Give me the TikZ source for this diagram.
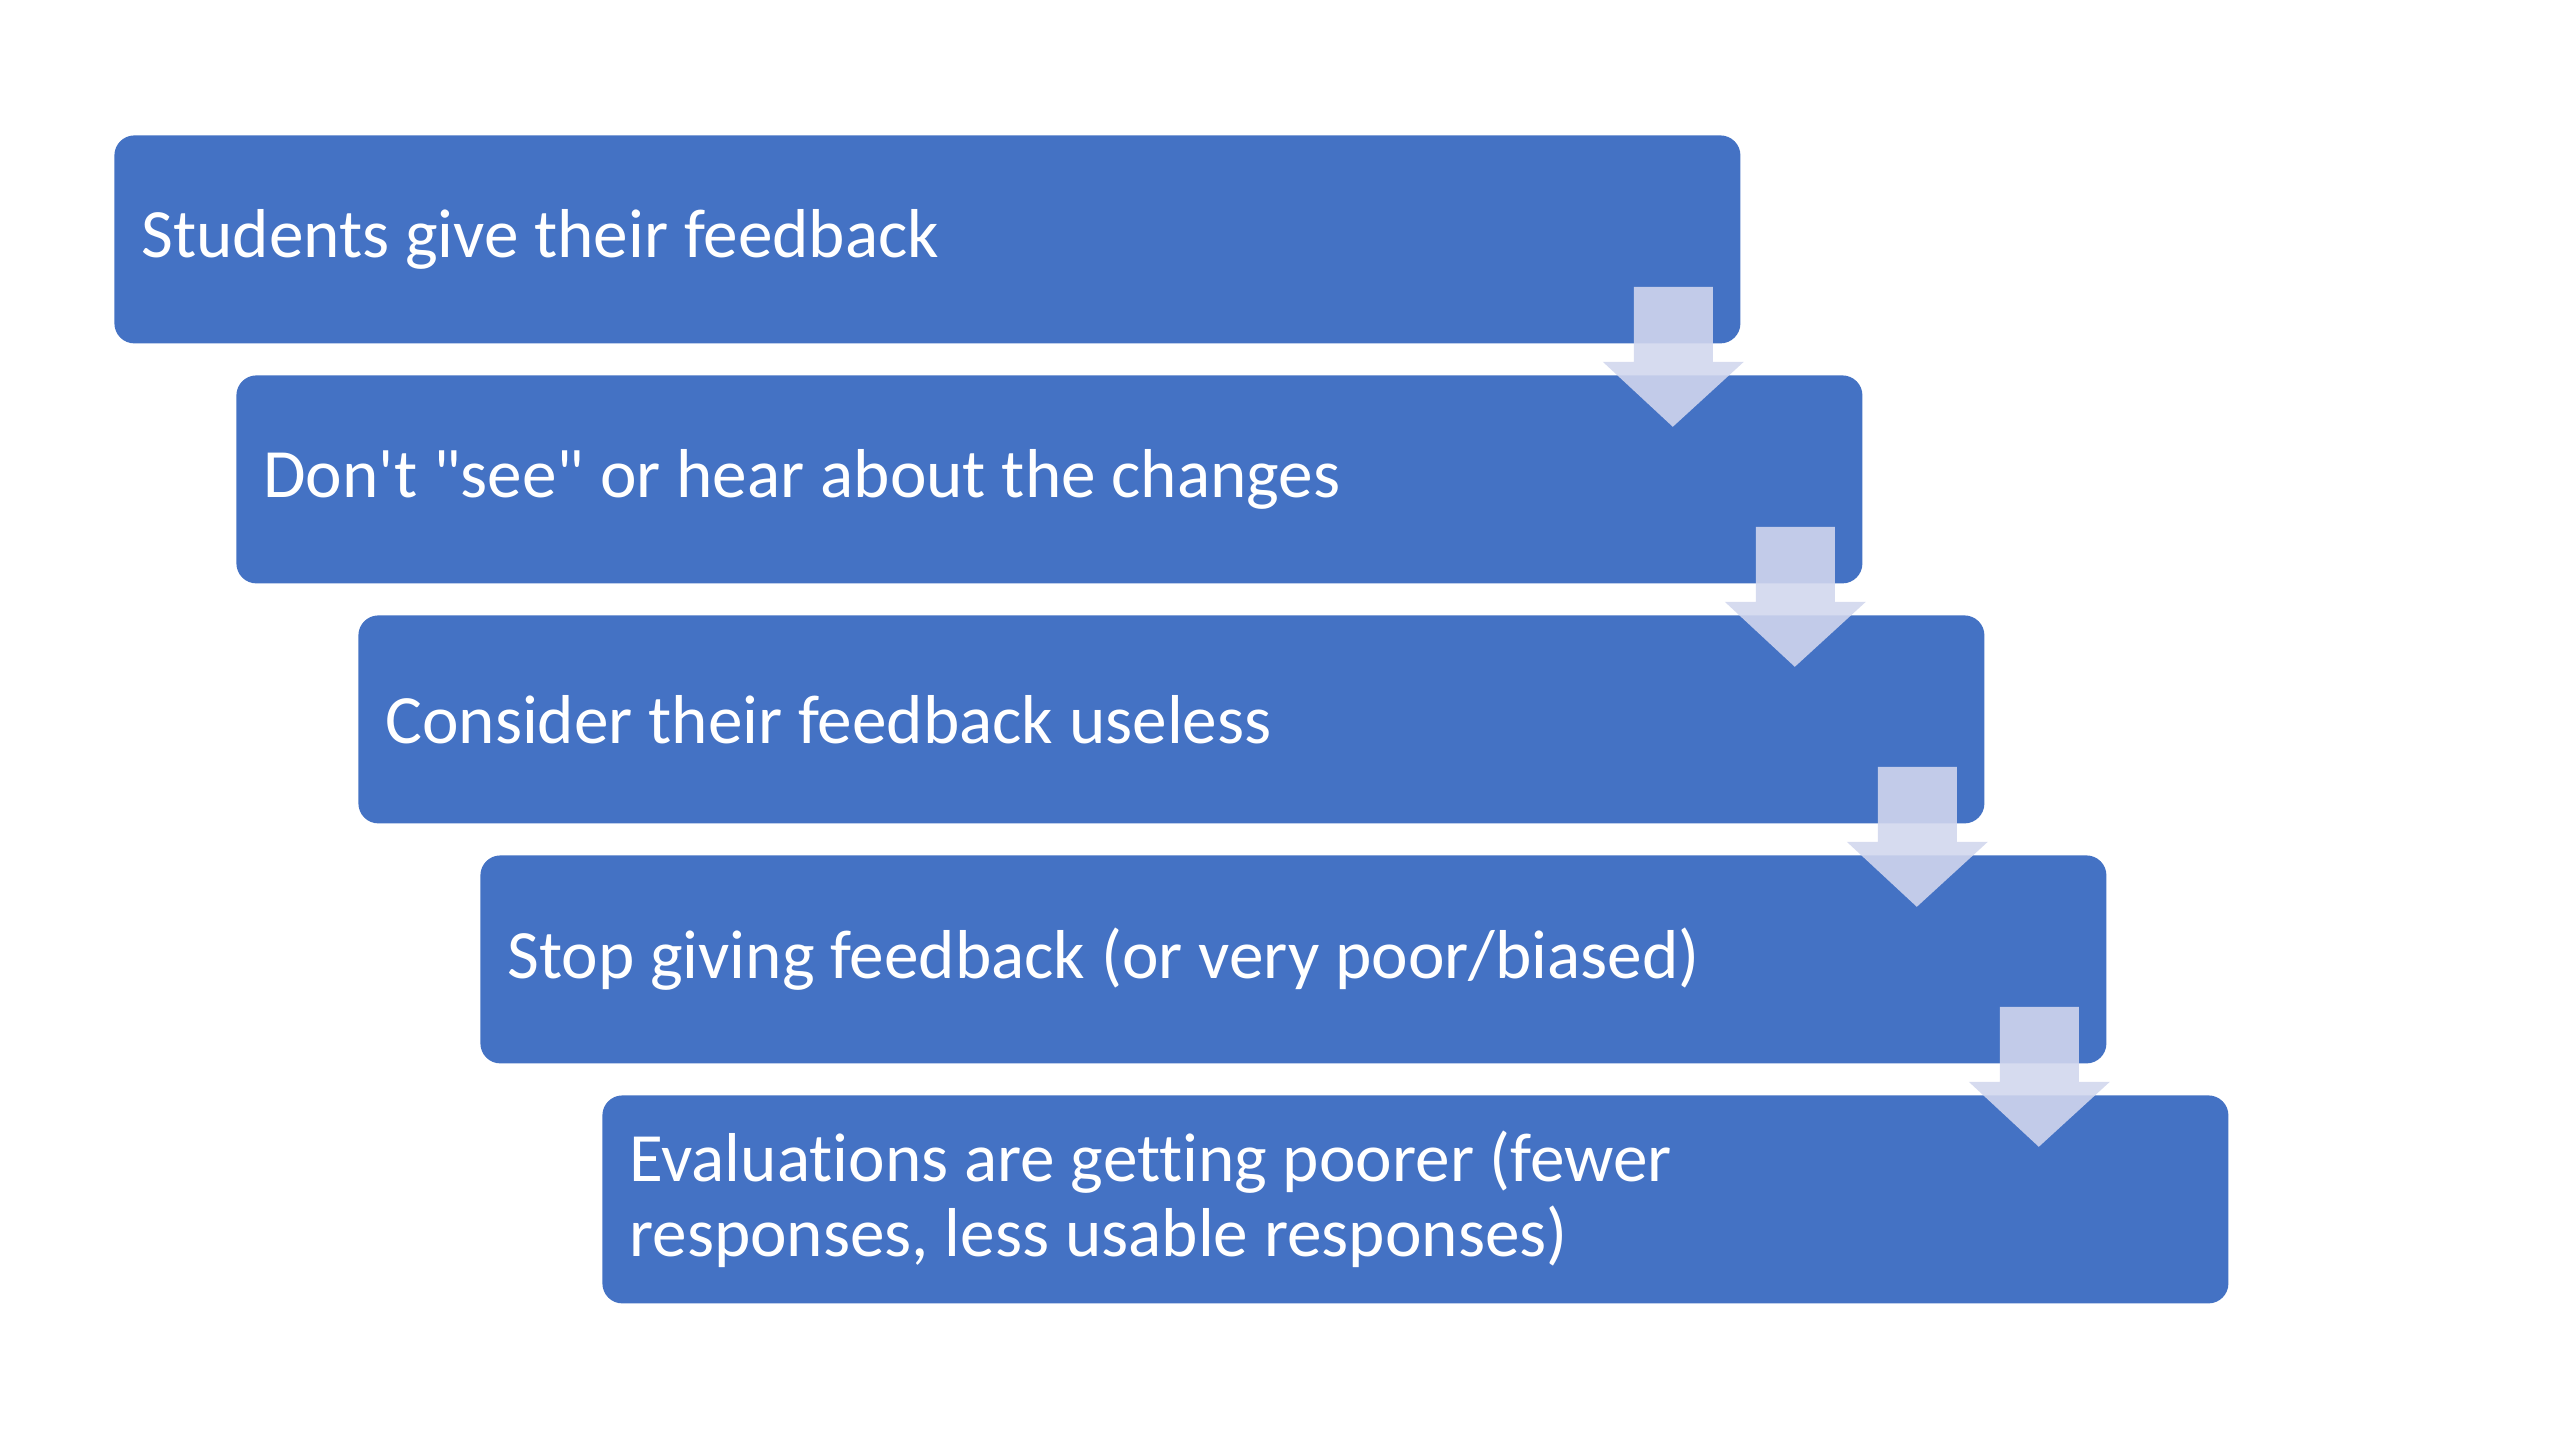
\documentclass[tikz,border=0pt]{standalone}
\usepackage{fontspec}
\setmainfont{Carlito}[Ligatures=NoCommon]
\usetikzlibrary{calc}
\definecolor{boxblue}{HTML}{4472C4}
\definecolor{arrowlight}{RGB}{210,215,238}
\tikzset{
  stepbox/.style={rectangle, rounded corners=10pt, fill=boxblue, draw=none,
    anchor=north west, minimum width=813pt, minimum height=104pt,
    text width=786pt, inner xsep=13.5pt, inner ysep=0pt, align=left,
    text=white, font=\fontsize{34.6}{37.5}\selectfont,
    execute at begin node={\spaceskip=7.9pt\relax\xspaceskip=7.9pt\relax}},
  downarrow/.style={fill=arrowlight, fill opacity=0.89, draw=none}
}
\newcommand{\downarr}[1]{%
  \fill[downarrow]
    ($(#1.south east)+(-53.5pt,28.5pt)$) -- ($(#1.south east)+(-14pt,28.5pt)$)
    -- ($(#1.south east)+(-14pt,-9pt)$) -- ($(#1.south east)+(1.5pt,-9pt)$)
    -- ($(#1.south east)+(-34pt,-41.5pt)$) -- ($(#1.south east)+(-69pt,-9pt)$)
    -- ($(#1.south east)+(-53.5pt,-9pt)$) -- cycle;}
\begin{document}
\begin{tikzpicture}[x=1pt,y=1pt]
\useasboundingbox[fill=white] (0,0) rectangle (1280,-720);
\node[stepbox] (b1) at (57,-67.5) {Students give their feedback};
\node[stepbox] (b2) at (118,-187.5) {Don\textquotesingle t \textquotedbl see\textquotedbl{} or hear about the changes};
\node[stepbox] (b3) at (179,-307.5) {Consider their feedback useless};
\node[stepbox] (b4) at (240,-427.5) {Stop giving feedback (or very poor/biased)};
\node[stepbox] (b5) at (301,-547.5) {Evaluations are getting poorer (fewer\\responses, less usable responses)};
\downarr{b1}
\downarr{b2}
\downarr{b3}
\downarr{b4}
\end{tikzpicture}
\end{document}
